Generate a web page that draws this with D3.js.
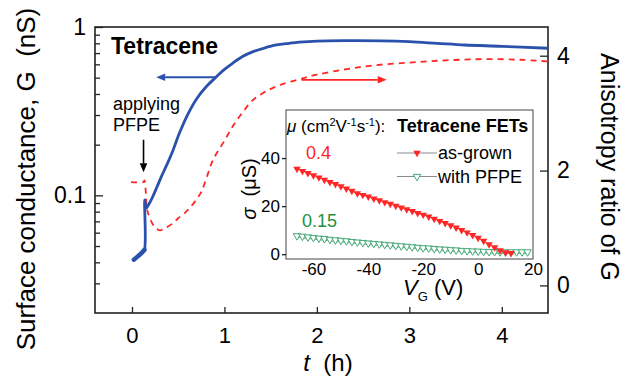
<!DOCTYPE html>
<html>
<head>
<meta charset="utf-8">
<script src="https://cdn.jsdelivr.net/npm/d3@7"></script>
<style>
  body { margin: 0; background: #fff; }
  svg { display: block; }
  text { font-family: "Liberation Sans", Arial, Helvetica, sans-serif; fill: #000; }
</style>
</head>
<body>
<svg id="chart" width="625" height="376"></svg>
<script>
// Surface conductance G (nS) versus time t (h)
const timeG = [0.02, 0.05, 0.08, 0.11, 0.135, 0.138, 0.155, 0.18, 0.22, 0.27, 0.32, 0.37, 0.44, 0.51, 0.6, 0.7, 0.8, 0.91, 1.0, 1.09, 1.2, 1.31, 1.43, 1.56, 1.7, 1.81, 2.0, 2.3, 2.7, 3.0, 3.3, 3.6, 4.0, 4.5];
const conductance = [0.0415, 0.0428, 0.0442, 0.0458, 0.0475, 0.094, 0.084, 0.088, 0.097, 0.112, 0.13, 0.149, 0.183, 0.232, 0.30, 0.375, 0.44, 0.504, 0.56, 0.61, 0.67, 0.714, 0.75, 0.782, 0.80, 0.812, 0.825, 0.83, 0.828, 0.818, 0.80, 0.782, 0.768, 0.748];
const earlyCount = 5; // the dense initial stretch before PFPE is applied

// Anisotropy ratio of G versus time t (h)
const timeA = [-0.01, 0.125, 0.135, 0.16, 0.17, 0.21, 0.245, 0.3, 0.35, 0.44, 0.5, 0.57, 0.62, 0.695, 0.75, 0.8, 0.875, 1.0, 1.09, 1.2, 1.31, 1.45, 1.6, 1.81, 2.0, 2.3, 2.6, 3.0, 3.4, 3.8, 4.2, 4.5];
const anisotropy = [1.80, 1.80, 1.83, 1.37, 1.28, 1.11, 1.02, 0.96, 0.99, 1.08, 1.17, 1.26, 1.34, 1.49, 1.63, 1.84, 2.18, 2.52, 2.77, 3.02, 3.23, 3.38, 3.49, 3.59, 3.67, 3.76, 3.83, 3.88, 3.92, 3.94, 3.93, 3.90];

// Inset: transfer curves sigma (uS) versus gate voltage V_G (V)
const vgGrown = [-66, -64, -62, -60, -58, -56, -54, -52, -50, -48, -46, -44, -42, -40, -38, -36, -34, -32, -30, -28, -26, -24, -22, -20, -18, -16, -14, -12, -10, -8, -6, -4, -2, 0, 2, 4, 6, 8, 10, 12];
const sigmaGrown = [35.5, 34.6, 33.7, 32.8, 31.9, 30.9, 30.0, 29.1, 28.2, 27.3, 26.3, 25.3, 24.6, 23.9, 23.1, 22.4, 21.6, 20.9, 20.1, 19.4, 18.6, 17.9, 17.1, 16.4, 15.6, 14.7, 13.8, 12.9, 12.0, 11.0, 10.0, 9.0, 7.9, 6.8, 5.5, 4.1, 2.8, 1.6, 0.7, 0.4];
const vgPfpe = [-66, -64, -62, -60, -58, -56, -54, -52, -50, -48, -46, -44, -42, -40, -38, -36, -34, -32, -30, -28, -26, -24, -22, -20, -18, -16, -14, -12, -10, -8, -6, -4, -2, 0, 2, 4, 6, 8, 10, 12, 14, 16, 18];
const sigmaPfpe = [7.0, 6.8, 6.5, 6.3, 6.0, 5.8, 5.5, 5.3, 5.1, 4.9, 4.6, 4.4, 4.2, 4.0, 3.8, 3.6, 3.4, 3.2, 3.0, 2.8, 2.6, 2.4, 2.2, 2.0, 1.9, 1.7, 1.5, 1.4, 1.2, 1.1, 0.9, 0.8, 0.7, 0.6, 0.5, 0.4, 0.4, 0.3, 0.3, 0.3, 0.3, 0.3, 0.3];

// Tick values
const tTicks = [0, 1, 2, 3, 4];
const gTicks = [0.1, 1];
const gMinorTicks = [0.03, 0.04, 0.05, 0.06, 0.07, 0.08, 0.09, 0.2, 0.3, 0.4, 0.5, 0.6, 0.7, 0.8, 0.9];
const ratioTicks = [0, 2, 4];
const vgTicks = [-60, -40, -20, 0, 20];
const sigmaTicks = [0, 20, 40];

const BLUE = "#2a52ac";
const RED = "#ff2626";
const GREEN_TXT = "#23913f";
const GREEN_MK = "#45a877";

const svg = d3.select("#chart");

// ---- main plot scales ----
const plot = { left: 95, right: 548, top: 27, bottom: 313 };
const x = d3.scaleLinear().domain([-0.4, 4.5]).range([plot.left, plot.right]);
const yG = d3.scaleLog().domain([0.02, 1]).range([plot.bottom, plot.top]);
const yR = d3.scaleLinear().domain([-0.48, 4.5]).range([plot.bottom, plot.top]);

function styleAxis(g, fontSize) {
  g.select(".domain").remove();
  g.selectAll(".tick line").attr("stroke", "#222").attr("stroke-width", 1.3);
  g.selectAll(".tick text").attr("font-size", fontSize).attr("font-family", '"Liberation Sans", Arial, sans-serif').attr("fill", "#000");
}

// bottom axis (ticks point inward)
svg.append("g")
  .attr("transform", `translate(0,${plot.bottom})`)
  .call(d3.axisBottom(x).tickValues(tTicks).tickFormat(d3.format("d")).tickSize(-6).tickPadding(14))
  .call(g => styleAxis(g, 22));

// left log axis
svg.append("g")
  .attr("transform", `translate(${plot.left},0)`)
  .call(d3.axisLeft(yG).tickValues(gTicks).tickFormat(d => d === 1 ? "1" : "0.1").tickSize(-8).tickPadding(9))
  .call(g => styleAxis(g, 23));
svg.append("g")
  .attr("transform", `translate(${plot.left},0)`)
  .call(d3.axisLeft(yG).tickValues(gMinorTicks).tickFormat("").tickSize(-5))
  .call(g => styleAxis(g, 10));

// right axis
svg.append("g")
  .attr("transform", `translate(${plot.right},0)`)
  .call(d3.axisRight(yR).tickValues(ratioTicks).tickFormat(d3.format("d")).tickSize(-8).tickPadding(9))
  .call(g => styleAxis(g, 23));

// frame
svg.append("rect")
  .attr("x", plot.left).attr("y", plot.top)
  .attr("width", plot.right - plot.left).attr("height", plot.bottom - plot.top)
  .attr("fill", "none").attr("stroke", "#222").attr("stroke-width", 1.6);

// ---- curves ----
const gPts = timeG.map((t, i) => [t, conductance[i]]);
const aPts = timeA.map((t, i) => [t, anisotropy[i]]);

const lineGPath = d3.line().x(d => x(d[0])).y(d => yG(d[1]));
const lineA = d3.line().x(d => x(d[0])).y(d => yR(d[1])).curve(d3.curveCatmullRom.alpha(0.5));

svg.append("path")
  .datum(aPts)
  .attr("d", lineA)
  .attr("fill", "none").attr("stroke", RED).attr("stroke-width", 1.8)
  .attr("stroke-dasharray", "6,5");

svg.append("path")
  .datum(gPts)
  .attr("d", d3.line().x(d => x(d[0])).y(d => yG(d[1])).curve(d3.curveCatmullRom.alpha(0.5)))
  .attr("fill", "none").attr("stroke", BLUE).attr("stroke-width", 2.8)
  .attr("stroke-linejoin", "round");

svg.append("path")
  .datum(gPts.slice(0, earlyCount))
  .attr("d", lineGPath)
  .attr("fill", "none").attr("stroke", BLUE).attr("stroke-width", 4.5)
  .attr("stroke-linecap", "round");

// ---- arrows ----
function arrow(x1, y1, x2, y2, color, head, width) {
  const ang = Math.atan2(y2 - y1, x2 - x1);
  const bx = x2 - head * Math.cos(ang), by = y2 - head * Math.sin(ang);
  svg.append("line").attr("x1", x1).attr("y1", y1).attr("x2", bx).attr("y2", by)
    .attr("stroke", color).attr("stroke-width", width);
  const w = head * 0.42;
  const px = -Math.sin(ang), py = Math.cos(ang);
  svg.append("path")
    .attr("d", `M${x2},${y2}L${bx + px * w},${by + py * w}L${bx - px * w},${by - py * w}Z`)
    .attr("fill", color);
}
// G belongs to the left axis, anisotropy to the right one
arrow(x(0.911), yG(0.503), x(0.262), yG(0.503), BLUE, 9, 1.8);
arrow(x(1.834), yR(3.58), x(2.755), yR(3.58), RED, 9, 1.8);
// moment PFPE is applied
arrow(x(0.125), yG(0.214), x(0.125), yG(0.137), "#000", 9, 1.6);

// ---- annotations ----
svg.append("text").attr("x", 111).attr("y", 54)
  .attr("font-size", 23).attr("font-weight", "bold").text("Tetracene");
svg.append("text").attr("x", 113).attr("y", 110).attr("font-size", 18).text("applying");
svg.append("text").attr("x", 113).attr("y", 131).attr("font-size", 18).text("PFPE");

// ---- axis titles ----
const tTitle = svg.append("text").attr("x", 328).attr("y", 371).attr("text-anchor", "middle").attr("font-size", 24);
tTitle.append("tspan").attr("font-style", "italic").text("t");
tTitle.append("tspan").text("\u00a0 (h)");

svg.append("text")
  .attr("transform", "translate(35,179) rotate(-90)")
  .attr("text-anchor", "middle").attr("font-size", 26)
  .text("Surface conductance, G\u00a0 (nS)");

svg.append("text")
  .attr("transform", "translate(601,167) rotate(90)")
  .attr("text-anchor", "middle").attr("font-size", 25)
  .text("Anisotropy ratio of G");

// ---- inset ----
const ins = { left: 286, right: 533, top: 110, bottom: 259 };
const xi = d3.scaleLinear().domain([-70, 20]).range([ins.left, ins.right]);
const yi = d3.scaleLinear().domain([-2, 60]).range([ins.bottom, ins.top]);

svg.append("rect")
  .attr("x", ins.left).attr("y", ins.top)
  .attr("width", ins.right - ins.left).attr("height", ins.bottom - ins.top)
  .attr("fill", "#fff").attr("stroke", "#555").attr("stroke-width", 1.1);

svg.append("g")
  .attr("transform", `translate(0,${ins.bottom})`)
  .call(d3.axisBottom(xi).tickValues(vgTicks).tickFormat(d => d < 0 ? "-" + Math.abs(d) : String(d)).tickSize(0).tickPadding(4))
  .call(g => styleAxis(g, 17));

svg.append("g")
  .attr("transform", `translate(${ins.left},0)`)
  .call(d3.axisLeft(yi).tickValues(sigmaTicks).tickFormat(d3.format("d")).tickSize(4).tickPadding(2))
  .call(g => styleAxis(g, 17));

const tri = d3.symbol().type(d3.symbolTriangle).size(24);

// thin connecting lines
const lineI = d3.line().x(d => xi(d[0])).y(d => yi(d[1]));
const grownPts = vgGrown.map((v, i) => [v, sigmaGrown[i]]);
const pfpePts = vgPfpe.map((v, i) => [v, sigmaPfpe[i]]);

svg.append("path").datum(pfpePts).attr("d", lineI)
  .attr("fill", "none").attr("stroke", GREEN_MK).attr("stroke-width", 0.8);
svg.append("g").selectAll("path").data(pfpePts).join("path")
  .attr("d", tri)
  .attr("transform", d => `translate(${xi(d[0])},${yi(d[1]) - 1.5}) rotate(180)`)
  .attr("fill", "#fff").attr("stroke", GREEN_MK).attr("stroke-width", 1);

svg.append("path").datum(grownPts).attr("d", lineI)
  .attr("fill", "none").attr("stroke", RED).attr("stroke-width", 0.8);
svg.append("g").selectAll("path").data(grownPts).join("path")
  .attr("d", tri)
  .attr("transform", d => `translate(${xi(d[0])},${yi(d[1])}) rotate(180)`)
  .attr("fill", RED);

// inset labels
const mu = svg.append("text").attr("x", 287).attr("y", 132).attr("font-size", 17);
mu.append("tspan").attr("font-style", "italic").text("\u03bc");
mu.append("tspan").text(" (cm");
mu.append("tspan").attr("font-size", 11).attr("dy", -6).text("2");
mu.append("tspan").attr("dy", 6).text("V");
mu.append("tspan").attr("font-size", 11).attr("dy", -6).text("-1");
mu.append("tspan").attr("dy", 6).text("s");
mu.append("tspan").attr("font-size", 11).attr("dy", -6).text("-1");
mu.append("tspan").attr("dy", 6).text("):");

svg.append("text").attr("x", 397).attr("y", 132).attr("font-size", 18).attr("font-weight", "bold").text("Tetracene FETs");

svg.append("text").attr("x", 306).attr("y", 159).attr("font-size", 18).style("fill", RED).text("0.4");
svg.append("text").attr("x", 302).attr("y", 227).attr("font-size", 18).style("fill", GREEN_TXT).text("0.15");

// legend
const legend = [
  { label: "as-grown", y: 153, filled: true },
  { label: "with PFPE", y: 176.5, filled: false }
];
legend.forEach(it => {
  svg.append("line").attr("x1", 397).attr("x2", 437).attr("y1", it.y).attr("y2", it.y)
    .attr("stroke", "#8a8a8a").attr("stroke-width", 1);
  svg.append("path").attr("d", tri)
    .attr("transform", `translate(417,${it.y}) rotate(180)`)
    .attr("fill", it.filled ? RED : "#fff")
    .attr("stroke", it.filled ? "none" : GREEN_MK).attr("stroke-width", 1);
  svg.append("text").attr("x", 438).attr("y", it.y + 6).attr("font-size", 18).text(it.label);
});

// inset axis titles
const vgTitle = svg.append("text").attr("x", 403).attr("y", 295).attr("font-size", 22);
vgTitle.append("tspan").attr("font-style", "italic").text("V");
vgTitle.append("tspan").attr("font-size", 13).attr("dy", 6).text("G");
vgTitle.append("tspan").attr("dy", -6).text(" (V)");

const sgTitle = svg.append("text")
  .attr("transform", "translate(256,189) rotate(-90)")
  .attr("text-anchor", "middle").attr("font-size", 20);
sgTitle.append("tspan").attr("font-style", "italic").text("\u03c3");
sgTitle.append("tspan").text("\u00a0 (\u03bcS)");
</script>
</body>
</html>
